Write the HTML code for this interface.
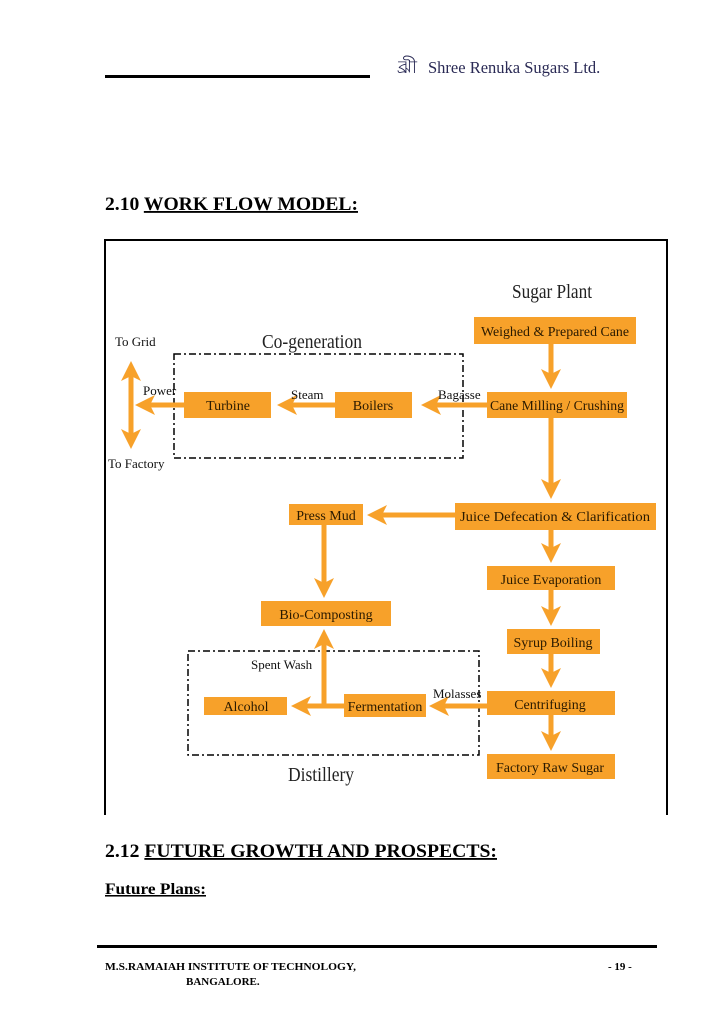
<!DOCTYPE html>
<html><head><meta charset="utf-8"><style>
body{margin:0;background:#fff;}
svg{display:block;}
text{font-family:"Liberation Serif",serif;}
</style></head><body>
<svg width="728" height="1030" viewBox="0 0 728 1030" xmlns="http://www.w3.org/2000/svg">
<defs>
<marker id="a" markerWidth="4" markerHeight="4" refX="3" refY="2" orient="auto" markerUnits="strokeWidth"><path d="M0,0 L4,2 L0,4 L1,2 z" fill="#f7a12a"/></marker>
</defs>
<rect x="105" y="75" width="265" height="3" fill="#000"/>
<text x="397" y="73" font-size="18" fill="#2a2a55">ঝ্রী</text>
<text x="428" y="73" font-size="16.5" fill="#2a2a55">Shree Renuka Sugars Ltd.</text>
<text x="105" y="210" font-size="18.5" font-weight="bold" textLength="253" lengthAdjust="spacingAndGlyphs">2.10 <tspan text-decoration="underline">WORK FLOW MODEL:</tspan></text>
<path d="M105,815 L105,240 L667,240 L667,815" fill="none" stroke="#000" stroke-width="2"/>
<g fill="none" stroke="#000" stroke-width="1.5" stroke-dasharray="7,3,2,3">
<rect x="174" y="354" width="289" height="104"/>
<rect x="188" y="651" width="291" height="104"/>
</g>
<g font-size="20" fill="#222">
<text x="552" y="298" text-anchor="middle" textLength="80" lengthAdjust="spacingAndGlyphs">Sugar Plant</text>
<text x="312" y="348" text-anchor="middle" textLength="100" lengthAdjust="spacingAndGlyphs">Co-generation</text>
<text x="321" y="781" text-anchor="middle" textLength="66" lengthAdjust="spacingAndGlyphs">Distillery</text>
</g>
<g stroke="#f7a12a" stroke-width="5" fill="none" marker-end="url(#a)">
<line x1="551" y1="344" x2="551" y2="384"/>
<line x1="487" y1="405" x2="426" y2="405"/>
<line x1="335" y1="405" x2="282" y2="405"/>
<line x1="184" y1="405" x2="140" y2="405"/>
<line x1="131" y1="405" x2="131" y2="366"/>
<line x1="131" y1="405" x2="131" y2="444"/>
<line x1="551" y1="418" x2="551" y2="494"/>
<line x1="455" y1="515" x2="372" y2="515"/>
<line x1="324" y1="525" x2="324" y2="593"/>
<line x1="551" y1="530" x2="551" y2="558"/>
<line x1="551" y1="590" x2="551" y2="621"/>
<line x1="551" y1="654" x2="551" y2="683"/>
<line x1="551" y1="715" x2="551" y2="746"/>
<line x1="487" y1="706" x2="434" y2="706"/>
<line x1="344" y1="706" x2="296" y2="706"/>
<line x1="324" y1="706" x2="324" y2="634"/>
</g>
<g fill="#f7a12a">
<rect x="474" y="317" width="162" height="27"/>
<rect x="487" y="392" width="140" height="26"/>
<rect x="184" y="392" width="87" height="26"/>
<rect x="335" y="392" width="77" height="26"/>
<rect x="455" y="503" width="201" height="27"/>
<rect x="289" y="504" width="74" height="21"/>
<rect x="261" y="601" width="130" height="25"/>
<rect x="487" y="566" width="128" height="24"/>
<rect x="507" y="629" width="93" height="25"/>
<rect x="487" y="691" width="128" height="24"/>
<rect x="487" y="754" width="128" height="25"/>
<rect x="344" y="694" width="82" height="23"/>
<rect x="204" y="697" width="83" height="18"/>
</g>
<g font-size="14" fill="#2a1a00" text-anchor="middle">
<text x="555" y="336" textLength="148" lengthAdjust="spacingAndGlyphs">Weighed &amp; Prepared Cane</text>
<text x="557" y="410" textLength="134" lengthAdjust="spacingAndGlyphs">Cane Milling / Crushing</text>
<text x="228" y="410">Turbine</text>
<text x="373" y="410">Boilers</text>
<text x="555" y="521" textLength="190" lengthAdjust="spacingAndGlyphs">Juice Defecation &amp; Clarification</text>
<text x="326" y="520">Press Mud</text>
<text x="326" y="619">Bio-Composting</text>
<text x="551" y="584">Juice Evaporation</text>
<text x="553" y="647">Syrup Boiling</text>
<text x="550" y="709">Centrifuging</text>
<text x="550" y="772">Factory Raw Sugar</text>
<text x="385" y="711">Fermentation</text>
<text x="246" y="711">Alcohol</text>
</g>
<g font-size="13" fill="#111">
<text x="115" y="346">To Grid</text>
<text x="108" y="468">To Factory</text>
<text x="143" y="395">Power</text>
<text x="291" y="399">Steam</text>
<text x="438" y="399">Bagasse</text>
<text x="251" y="669">Spent Wash</text>
<text x="433" y="698">Molasses</text>
</g>
<text x="105" y="857" font-size="18.5" font-weight="bold" textLength="392" lengthAdjust="spacingAndGlyphs">2.12 <tspan text-decoration="underline">FUTURE GROWTH AND PROSPECTS:</tspan></text>
<text x="105" y="894" font-size="15.5" font-weight="bold" text-decoration="underline" textLength="101" lengthAdjust="spacingAndGlyphs">Future Plans:</text>
<rect x="97" y="945" width="560" height="3" fill="#000"/>
<g font-size="11" font-weight="bold">
<text x="105" y="970" textLength="251" lengthAdjust="spacingAndGlyphs">M.S.RAMAIAH INSTITUTE OF TECHNOLOGY,</text>
<text x="186" y="985">BANGALORE.</text>
<text x="608" y="970">- 19 -</text>
</g>
</svg>
</body></html>
